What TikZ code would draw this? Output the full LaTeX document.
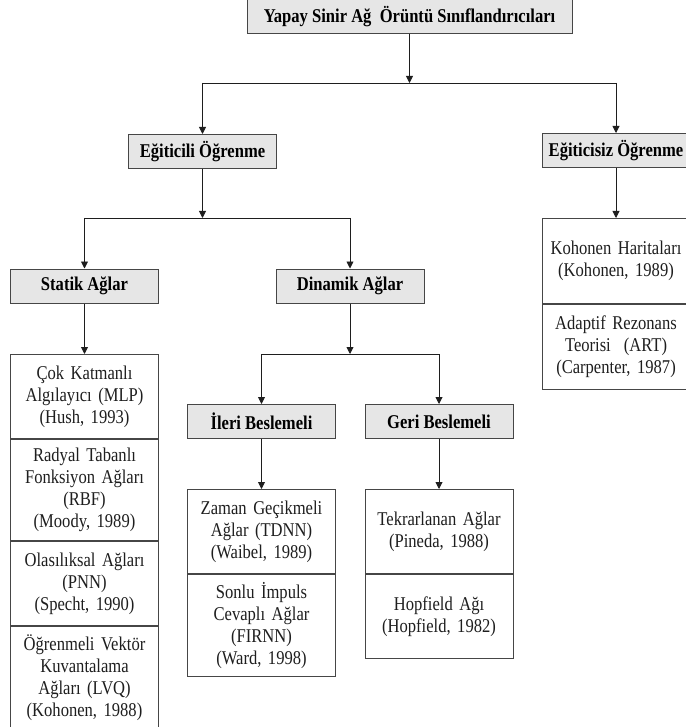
\documentclass[tikz,border=0pt]{standalone}
\usepackage{fontspec}
\usepackage{xcolor}
\usepackage{tikz}
\usetikzlibrary{arrows.meta, positioning}
\newfontfamily\diafont{Liberation Serif}[FakeStretch=0.85]
\definecolor{mydark}{RGB}{30,30,30}
\definecolor{mgframe}{RGB}{70,70,70}
\definecolor{hdrgray}{RGB}{230,230,230}
\tikzset{
  hdrbox/.style={rectangle, draw=mgframe, fill=hdrgray,
    minimum width=148pt, minimum height=34pt, inner sep=0pt,
    font=\diafont\fontsize{19.5}{22}\selectfont\bfseries, line width=1pt},
  cellbox/.style={rectangle, draw=mgframe, fill=white,
    minimum width=148pt, text width=144pt, align=center, inner sep=0pt,
    font=\diafont\fontsize{19.5}{22}\selectfont, text=mydark, line width=1pt},
  arrow/.style={-{Triangle[length=7pt,width=7pt]}, line width=0.9pt, color=mydark},
  line/.style={line width=0.9pt, color=mydark}
}

\begin{document}
\begin{tikzpicture}[x=1pt, y=-1pt]
  \useasboundingbox (0,0) rectangle (685,727);

  % ── Headers ────────────────────────────────────────────────────────────────
  \node[hdrbox, minimum width=325pt] (ysa) at (409.5,16.5) {Yapay Sinir Ağ~ Örüntü Sınıflandırıcıları};
  \node[hdrbox] (egl) at (202.5,151.5) {Eğiticili Öğrenme};
  \node[hdrbox] (egs) at (616,150.5) {Eğiticisiz Öğrenme};
  \node[hdrbox] (stat) at (84.5,286) {Statik Ağlar};
  \node[hdrbox] (dina) at (350,286) {Dinamik Ağlar};
  \node[hdrbox] (ileri) at (261.5,421.5) {İleri Beslemeli};
  \node[hdrbox] (geri) at (439,421.5) {Geri Beslemeli};

  % ── Statik list ────────────────────────────────────────────────────────────
  \node[cellbox, anchor=north, minimum height=84pt] (mlp) at (84.5,354)
    {Çok Katmanlı\\Algılayıcı (MLP)\\(Hush, 1993)};
  \node[cellbox, below=0pt of mlp, minimum height=101pt] (rbf)
    {Radyal Tabanlı\\Fonksiyon Ağları\\(RBF)\\(Moody, 1989)};
  \node[cellbox, below=0pt of rbf, minimum height=84pt] (pnn)
    {Olasılıksal Ağları\\(PNN)\\(Specht, 1990)};
  \node[cellbox, below=0pt of pnn, minimum height=102pt] (lvq)
    {Öğrenmeli Vektör\\Kuvantalama\\Ağları (LVQ)\\(Kohonen, 1988)};

  % ── İleri / Geri lists ─────────────────────────────────────────────────────
  \node[cellbox, anchor=north, minimum height=84pt] (tdnn) at (261.5,489)
    {Zaman Geçikmeli\\Ağlar (TDNN)\\(Waibel, 1989)};
  \node[cellbox, below=0pt of tdnn, minimum height=102pt] (firnn)
    {Sonlu İmpuls\\Cevaplı Ağlar\\(FIRNN)\\(Ward, 1998)};
  \node[cellbox, anchor=north, minimum height=84pt] (tekr) at (439,489)
    {Tekrarlanan Ağlar\\(Pineda, 1988)};
  \node[cellbox, below=0pt of tekr, minimum height=84pt] (hopf)
    {Hopfield Ağı\\(Hopfield, 1982)};

  % ── Eğiticisiz list ────────────────────────────────────────────────────────
  \node[cellbox, anchor=north, minimum height=85pt] (koh) at (616,218)
    {Kohonen Haritaları\\(Kohonen, 1989)};
  \node[cellbox, below=0pt of koh, minimum height=85pt] (art)
    {Adaptif Rezonans\\Teorisi~ (ART)\\(Carpenter, 1987)};

  % ── Connectors ─────────────────────────────────────────────────────────────
  \coordinate (j1) at (409.5,83);
  \coordinate (j2) at (202.5,218);
  \coordinate (j3) at (350,354);

  \draw[arrow] (ysa.south) -- (j1);
  \draw[line] (egl.north |- j1) -- (egs.north |- j1);
  \draw[arrow] (egl.north |- j1) -- (egl.north);
  \draw[arrow] (egs.north |- j1) -- (egs.north);

  \draw[arrow] (egl.south) -- (j2);
  \draw[line] (stat.north |- j2) -- (dina.north |- j2);
  \draw[arrow] (stat.north |- j2) -- (stat.north);
  \draw[arrow] (dina.north |- j2) -- (dina.north);

  \draw[arrow] (dina.south) -- (j3);
  \draw[line] (ileri.north |- j3) -- (geri.north |- j3);
  \draw[arrow] (ileri.north |- j3) -- (ileri.north);
  \draw[arrow] (geri.north |- j3) -- (geri.north);

  \draw[arrow] (stat.south) -- (mlp.north);
  \draw[arrow] (ileri.south) -- (tdnn.north);
  \draw[arrow] (geri.south) -- (tekr.north);
  \draw[arrow] (egs.south) -- (koh.north);
\end{tikzpicture}
\end{document}
